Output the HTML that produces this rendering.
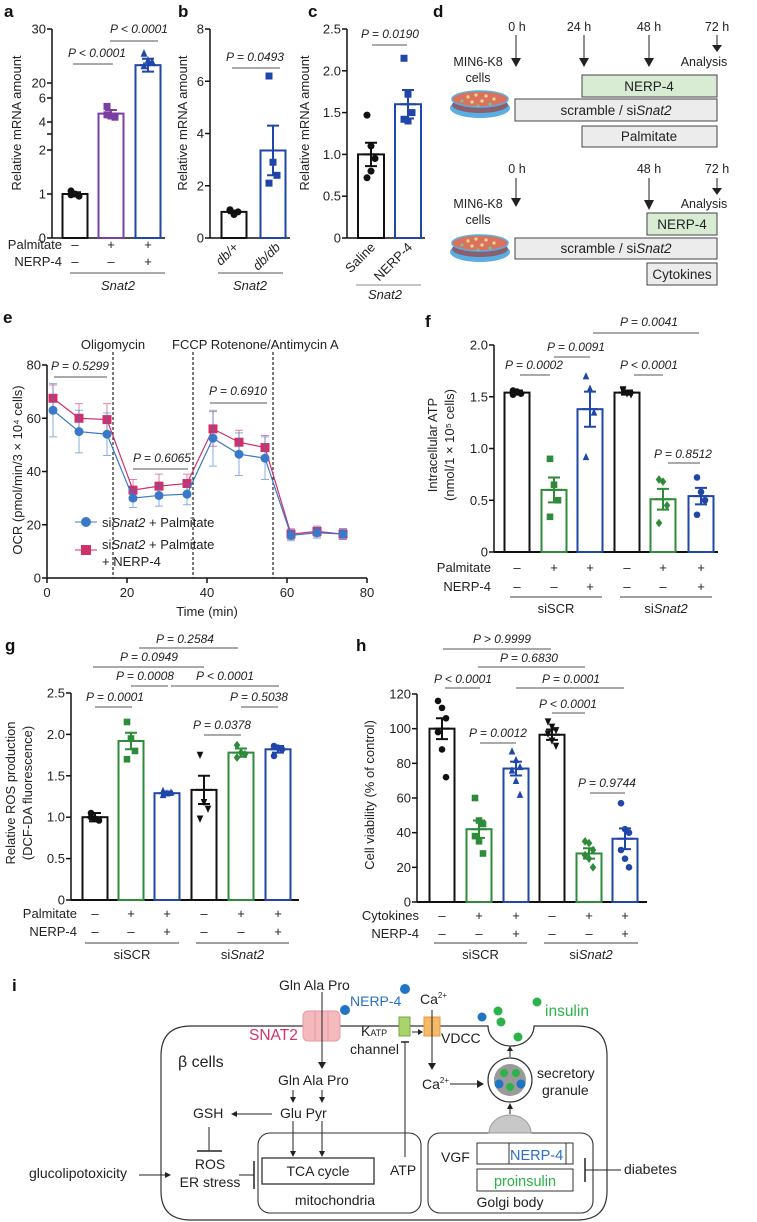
<!DOCTYPE html>
<html><head><meta charset="utf-8"><style>
html,body{margin:0;padding:0;background:#fff;}
svg{display:block;font-family:"Liberation Sans",sans-serif;}
.t{font-size:13px;fill:#222}
.pv{font-size:12px;font-style:italic;fill:#222}
.lb{font-size:17px;font-weight:bold;fill:#111}
</style></head><body>
<svg id="fig" width="757" height="1222" viewBox="0 0 757 1222" xmlns="http://www.w3.org/2000/svg">
<text class="lb" x="4" y="17">a</text>
<text class="lb" x="178" y="17">b</text>
<text class="lb" x="308" y="17">c</text>
<text class="lb" x="433" y="17">d</text>
<text class="lb" x="3" y="323">e</text>
<text class="lb" x="425" y="327">f</text>
<text class="lb" x="5" y="651">g</text>
<text class="lb" x="356" y="651">h</text>
<text class="lb" x="12" y="991">i</text>

<g id="pd" font-size="12.5" fill="#222">
  <g>
    <text x="517" y="31" text-anchor="middle">0 h</text>
    <text x="579" y="31" text-anchor="middle">24 h</text>
    <text x="649" y="31" text-anchor="middle">48 h</text>
    <text x="717" y="31" text-anchor="middle">72 h</text>
    <line x1="516" y1="35" x2="516" y2="60" stroke="#222"/><polygon points="511,58 521,58 516,67" fill="#222"/>
    <line x1="584" y1="35" x2="584" y2="60" stroke="#222"/><polygon points="579,58 589,58 584,67" fill="#222"/>
    <line x1="649" y1="35" x2="649" y2="60" stroke="#222"/><polygon points="644,58 654,58 649,67" fill="#222"/>
    <line x1="717" y1="35" x2="717" y2="46" stroke="#222"/><polygon points="712,45 722,45 717,52" fill="#222"/>
    <text x="704" y="66" text-anchor="middle">Analysis</text>
    <text x="478" y="66" text-anchor="middle">MIN6-K8</text>
    <text x="478" y="82" text-anchor="middle">cells</text>
    <g>
      <ellipse cx="480" cy="108" rx="30" ry="10" fill="#5aaee0"/>
      <ellipse cx="480" cy="105" rx="28" ry="8" fill="#8a6070"/>
      <ellipse cx="480" cy="99" rx="28" ry="8" fill="#d9735e" stroke="#5aaee0" stroke-width="1.5"/>
      <g fill="#f1dc8a"><circle cx="468" cy="97" r="1.6"/><circle cx="476" cy="95" r="1.6"/><circle cx="486" cy="96" r="1.6"/><circle cx="494" cy="99" r="1.6"/><circle cx="472" cy="102" r="1.6"/><circle cx="482" cy="101" r="1.6"/></g>
      <g fill="#6fc6b0"><circle cx="462" cy="101" r="1.5"/><circle cx="490" cy="104" r="1.5"/><circle cx="478" cy="106" r="1.5"/></g>
    </g>
    <rect x="582" y="75" width="135" height="22" fill="#d7ecd3" stroke="#444"/>
    <text x="649" y="91" text-anchor="middle" font-size="13.5">NERP-4</text>
    <rect x="515" y="99" width="202" height="22" fill="#ececec" stroke="#444"/>
    <text x="616" y="115" text-anchor="middle" font-size="13.5">scramble / si<tspan font-style="italic">Snat2</tspan></text>
    <rect x="582" y="126" width="135" height="21" fill="#ececec" stroke="#444"/>
    <text x="649" y="141" text-anchor="middle" font-size="13.5">Palmitate</text>
  </g>
  <g>
    <text x="517" y="173" text-anchor="middle">0 h</text>
    <text x="649" y="173" text-anchor="middle">48 h</text>
    <text x="717" y="173" text-anchor="middle">72 h</text>
    <line x1="516" y1="178" x2="516" y2="200" stroke="#222"/><polygon points="511,198 521,198 516,207" fill="#222"/>
    <line x1="649" y1="178" x2="649" y2="202" stroke="#222"/><polygon points="644,200 654,200 649,210" fill="#222"/>
    <line x1="717" y1="178" x2="717" y2="189" stroke="#222"/><polygon points="712,188 722,188 717,195" fill="#222"/>
    <text x="704" y="208" text-anchor="middle">Analysis</text>
    <text x="478" y="208" text-anchor="middle">MIN6-K8</text>
    <text x="478" y="224" text-anchor="middle">cells</text>
    <g>
      <ellipse cx="480" cy="252" rx="30" ry="10" fill="#5aaee0"/>
      <ellipse cx="480" cy="249" rx="28" ry="8" fill="#8a6070"/>
      <ellipse cx="480" cy="243" rx="28" ry="8" fill="#d9735e" stroke="#5aaee0" stroke-width="1.5"/>
      <g fill="#f1dc8a"><circle cx="468" cy="241" r="1.6"/><circle cx="476" cy="239" r="1.6"/><circle cx="486" cy="240" r="1.6"/><circle cx="494" cy="243" r="1.6"/><circle cx="472" cy="246" r="1.6"/><circle cx="482" cy="245" r="1.6"/></g>
      <g fill="#6fc6b0"><circle cx="462" cy="245" r="1.5"/><circle cx="490" cy="248" r="1.5"/><circle cx="478" cy="250" r="1.5"/></g>
    </g>
    <rect x="647" y="213" width="70" height="22" fill="#d7ecd3" stroke="#444"/>
    <text x="682" y="229" text-anchor="middle" font-size="13.5">NERP-4</text>
    <rect x="515" y="238" width="202" height="21" fill="#ececec" stroke="#444"/>
    <text x="616" y="253" text-anchor="middle" font-size="13.5">scramble / si<tspan font-style="italic">Snat2</tspan></text>
    <rect x="647" y="263" width="70" height="22" fill="#ececec" stroke="#444"/>
    <text x="682" y="279" text-anchor="middle" font-size="13.5">Cytokines</text>
  </g>
</g>

<g id="pi" font-size="14" fill="#222">
  <path d="M191,1026 L488,1026 A23,20 0 0 0 534,1026 L577,1026 Q607,1026 607,1056 L607,1191 Q607,1220 577,1220 L191,1220 Q161,1220 161,1191 L161,1056 Q161,1026 191,1026 Z" fill="none" stroke="#333" stroke-width="1.2"/>
  <rect x="303" y="1011" width="37" height="30" rx="5" fill="#f4b9bd" stroke="#e69aa0"/>
  <line x1="315" y1="1011" x2="315" y2="1041" stroke="#e69aa0"/><line x1="328" y1="1011" x2="328" y2="1041" stroke="#e69aa0"/>
  <text x="249" y="1040" fill="#d6336c" font-size="15.5">SNAT2</text>
  <text x="279" y="990">Gln  Ala  Pro</text>
  <line x1="322" y1="992" x2="322" y2="1063" stroke="#222"/><polygon points="318,1062 326,1062 322,1069" fill="#222"/>
  <circle cx="405" cy="989" r="5" fill="#1f74c4"/><circle cx="345" cy="1010" r="5" fill="#1f74c4"/>
  <text x="350" y="1006" fill="#2a6fc4">NERP-4</text>
  <rect x="399" y="1017" width="11" height="19" fill="#a9d36b" stroke="#7ca34a"/>
  <text x="361" y="1036">K<tspan font-size="9">ATP</tspan></text>
  <text x="350" y="1054">channel</text>
  <line x1="412" y1="1032" x2="419" y2="1032" stroke="#222"/><polygon points="418,1029 423,1032 418,1035" fill="#222"/>
  <rect x="424" y="1017" width="16" height="19" fill="#f7b968" stroke="#e39a40"/>
  <text x="441" y="1043">VDCC</text>
  <text x="420" y="1004">Ca<tspan font-size="8" dy="-6">2+</tspan></text>
  <line x1="432" y1="1010" x2="432" y2="1064" stroke="#222"/><polygon points="428,1063 436,1063 432,1070" fill="#222"/>
  <text x="422" y="1089">Ca<tspan font-size="8" dy="-6">2+</tspan></text>
  <line x1="450" y1="1084" x2="478" y2="1084" stroke="#222"/><polygon points="477,1080 484,1084 477,1088" fill="#222"/>
  <g>
    <circle cx="510" cy="1080" r="22" fill="#fff" stroke="#333" stroke-width="1.2"/>
    <circle cx="510" cy="1080" r="16" fill="#9a9a9a"/>
    <circle cx="504" cy="1073" r="4" fill="#2bb34a"/><circle cx="516" cy="1073" r="4" fill="#2bb34a"/>
    <circle cx="499" cy="1084" r="4.5" fill="#1f74c4"/><circle cx="521" cy="1084" r="4.5" fill="#1f74c4"/><circle cx="510" cy="1087" r="4" fill="#2bb34a"/>
  </g>
  <text x="537" y="1078">secretory</text><text x="542" y="1095">granule</text>
  <line x1="510" y1="1057" x2="510" y2="1050" stroke="#222"/><polygon points="507,1051 513,1051 510,1046" fill="#222"/>
  <circle cx="498" cy="1011" r="4.5" fill="#2bb34a"/><circle cx="501" cy="1022" r="4.5" fill="#2bb34a"/><circle cx="518" cy="1037" r="4.5" fill="#2bb34a"/><circle cx="537" cy="1002" r="4.5" fill="#2bb34a"/><circle cx="482" cy="1017" r="4.5" fill="#1f74c4"/>
  <text x="545" y="1016" fill="#2bb34a" font-size="15.5">insulin</text>
  <text x="178" y="1067" font-size="16">β cells</text>
  <text x="278" y="1085">Gln  Ala  Pro</text>
  <line x1="293" y1="1090" x2="293" y2="1099" stroke="#222"/><polygon points="290,1097 296,1097 293,1103" fill="#222"/>
  <line x1="322" y1="1090" x2="322" y2="1099" stroke="#222"/><polygon points="319,1097 325,1097 322,1103" fill="#222"/>
  <text x="280" y="1118">Glu  Pyr</text>
  <text x="193" y="1118">GSH</text>
  <line x1="236" y1="1114" x2="272" y2="1114" stroke="#222"/><polygon points="237,1111 231,1114 237,1117" fill="#222"/>
  <line x1="209" y1="1127" x2="209" y2="1151" stroke="#222"/><line x1="197" y1="1151" x2="222" y2="1151" stroke="#222" stroke-width="1.5"/>
  <text x="210" y="1169" text-anchor="middle">ROS</text>
  <text x="210" y="1187" text-anchor="middle">ER stress</text>
  <text x="29" y="1178">glucolipotoxicity</text>
  <line x1="139" y1="1175" x2="166" y2="1175" stroke="#222"/><polygon points="165,1172 171,1175 165,1178" fill="#222"/>
  <line x1="239" y1="1175" x2="254" y2="1175" stroke="#222"/><line x1="254" y1="1161" x2="254" y2="1189" stroke="#222" stroke-width="1.5"/>
  <rect x="258" y="1133" width="163" height="80" rx="12" fill="none" stroke="#333" stroke-width="1.1"/>
  <rect x="262" y="1158" width="112" height="26" fill="none" stroke="#333" stroke-width="1.3"/>
  <text x="318" y="1176" text-anchor="middle">TCA cycle</text>
  <text x="335" y="1205" text-anchor="middle">mitochondria</text>
  <text x="390" y="1175">ATP</text>
  <line x1="293" y1="1121" x2="293" y2="1152" stroke="#222"/><polygon points="290,1151 296,1151 293,1157" fill="#222"/>
  <line x1="322" y1="1121" x2="322" y2="1152" stroke="#222"/><polygon points="319,1151 325,1151 322,1157" fill="#222"/>
  <line x1="405" y1="1157" x2="405" y2="1042" stroke="#222"/><line x1="401" y1="1042" x2="409" y2="1042" stroke="#222" stroke-width="1.5"/>
  <rect x="428" y="1133" width="165" height="80" rx="12" fill="none" stroke="#333" stroke-width="1.1"/>
  <path d="M489,1133 A21,18 0 0 1 531,1133 Z" fill="#c8c8c8" stroke="#999"/>
  <line x1="510" y1="1114" x2="510" y2="1108" stroke="#222"/><polygon points="507,1109 513,1109 510,1103" fill="#222"/>
  <text x="441" y="1162">VGF</text>
  <rect x="477" y="1143" width="96" height="21" fill="#fff" stroke="#333"/>
  <line x1="509" y1="1143" x2="509" y2="1164" stroke="#333"/><line x1="566" y1="1143" x2="566" y2="1164" stroke="#333"/>
  <text x="510" y="1160" fill="#2a6fc4" font-size="14.5">NERP-4</text>
  <rect x="477" y="1169" width="96" height="22" fill="#fff" stroke="#333"/>
  <text x="525" y="1186" text-anchor="middle" fill="#2bb34a" font-size="14.5">proinsulin</text>
  <text x="510" y="1207" text-anchor="middle">Golgi body</text>
  <text x="624" y="1174">diabetes</text>
  <line x1="585" y1="1170" x2="621" y2="1170" stroke="#222"/><line x1="585" y1="1158" x2="585" y2="1182" stroke="#222" stroke-width="1.5"/>
</g>
</svg>
<script>
// panel a
const aMeans=[1.0,4.7,23.3];
const aSems=[0.04,0.3,1.2];
const aPts=[[1.07,1.0,0.95,0.98],[5.3,4.5,4.4,4.6],[25.5,24.2,24.0,23.2]];
// panel b
const bMeans=[1.0,3.35];
const bSems=[0.05,0.95];
const bPts=[[1.05,0.9,1.0,1.08],[6.2,2.9,2.4,2.1]];
// panel c
const cMeans=[1.0,1.6];
const cSems=[0.14,0.17];
const cPts=[[1.47,1.1,0.95,0.72,0.8],[2.15,1.72,1.5,1.42,1.4]];
// panel e
const eTimes=[1.5,8,15,21.5,28,35,41.5,48,54.5,61,67.5,74];
const eBlue=[63,55,54,30,31,31.5,52.5,46.5,45,16,17,16.5];
const eBlueErr=[10,8,8,3.5,4,4,10.5,8,8,2,2,2];
const ePink=[67.5,60,59.5,33,34.5,35.5,56,51,49,16.5,17.5,16.5];
const ePinkErr=[5,5.5,6,4,4.5,3.5,6.5,4.5,4.5,2,2,2];
const eXTicks=[0,20,40,60,80];
const eYTicks=[0,20,40,60,80];
const eInjections=[16.5,36.5,56.5];
// panel f
const fMeans=[1.54,0.6,1.38,1.54,0.51,0.54];
const fSems=[0.02,0.12,0.17,0.02,0.1,0.08];
const fPts=[[1.52,1.55,1.53,1.56],[0.9,0.65,0.5,0.34],[1.7,1.58,1.35,0.92],[1.56,1.53,1.52,1.57],[0.7,0.68,0.45,0.28],[0.72,0.58,0.5,0.36]];
const fTicks=[0,0.5,1.0,1.5,2.0];
// panel g
const gMeans=[1.0,1.92,1.29,1.33,1.78,1.82];
const gSems=[0.05,0.1,0.02,0.17,0.05,0.04];
const gPts=[[1.05,0.98,0.96,1.0],[2.15,1.95,1.8,1.7],[1.27,1.29,1.3,1.32],[1.75,1.18,1.1,0.98],[1.87,1.78,1.76,1.72],[1.86,1.84,1.82,1.74]];
const gTicks=[0,0.5,1.0,1.5,2.0,2.5];
// panel h
const hMeans=[100,42,77,96.5,28,36.5];
const hSems=[6,5,4,3,3,6];
const hPts=[[116,112,106,98,88,72],[60,47,45,38,35,28],[87,82,78,76,70,62],[104,101,99,97,93,90],[35,34,30,27,25,20],[57,42,40,30,25,20]];
const hTicks=[0,20,40,60,80,100,120];
const sixColors=['#111','#2e8b3a','#1f46a8','#111','#2e8b3a','#1f46a8'];
const sixShapes=['circle','square','tri','tridown','diamond','circle'];
const signsA=['–','+','+','–','+','+'];
const signsB=['–','–','+','–','–','+'];

const NS='http://www.w3.org/2000/svg';
const svg=document.getElementById('fig');
function mk(tag,attrs,parent){const e=document.createElementNS(NS,tag);for(const k in attrs)e.setAttribute(k,attrs[k]);(parent||svg).appendChild(e);return e;}
function tx(x,y,s,attrs,parent){const t=mk('text',Object.assign({x:x,y:y},attrs||{}),parent);t.textContent=s;return t;}
function marker(shape,x,y,s,c,parent){
  let m;
  if(shape==='circle')m=mk('circle',{cx:x,cy:y,r:s,fill:c},parent);
  else if(shape==='square')m=mk('rect',{x:x-s,y:y-s,width:2*s,height:2*s,fill:c},parent);
  else if(shape==='tri')m=mk('polygon',{points:`${x-s},${y+s} ${x+s},${y+s} ${x},${y-s*1.2}`,fill:c},parent);
  else if(shape==='tridown')m=mk('polygon',{points:`${x-s},${y-s} ${x+s},${y-s} ${x},${y+s*1.2}`,fill:c},parent);
  else m=mk('polygon',{points:`${x},${y-s*1.3} ${x+s},${y} ${x},${y+s*1.3} ${x-s},${y}`,fill:c},parent);
  
  
  return m;
}
function pval(cx,ty,x1,x2,ly,s,parent){
  const t=tx(cx,ty,s,{'class':'pv','text-anchor':'middle'},parent);
  
  
  const l=mk('line',{x1:x1,x2:x2,y1:ly,y2:ly,stroke:'#777','stroke-width':1.2},parent);
  
  
}
function yAxis(g,ax,yTop,yBot,ticks,ys,fmt){
  const a=mk('line',{x1:ax,x2:ax,y1:yTop,y2:yBot,stroke:'#111','stroke-width':1.5},g);
  
  
  ticks.forEach(v=>{
    const y=ys(v);
    mk('line',{x1:ax-5,x2:ax,y1:y,y2:y,stroke:'#111','stroke-width':1.5},g);
    const t=tx(ax-6,y+4.5,fmt(v),{'class':'t','text-anchor':'end'},g);
    
    
  });
}
function bars(g,centers,w,means,sems,pts,colors,shapes,ys,y0,msz){
  means.forEach((m,i)=>{
    const cx=centers[i],c=colors[i];
    const r=mk('rect',{x:cx-w/2,y:ys(m),width:w,height:y0-ys(m),fill:'none',stroke:c,'stroke-width':2},g);
    
    
    pts[i].forEach((p,j)=>marker(shapes[i],cx+((j%3)-1)*4,ys(p),msz,c,g));
    const e1=ys(m+sems[i]),e2=ys(m-sems[i]);
    const eb=mk('path',{d:`M${cx},${e1}V${e2}M${cx-6},${e1}H${cx+6}M${cx-6},${e2}H${cx+6}M${cx-8},${ys(m)}H${cx+8}`,stroke:c,'stroke-width':2,fill:'none'},g);
    
    
  });
}
function grp(name){const g=mk('g',{});return g;}

(function(){
  const g=grp('panel-a-chart');
  const ys=v=>v<=2?238-v*44:(v<=6?122-(v-4)*12:83-(v-20)*5.4);
  yAxis(g,52,29,238,[0,1,2,4,6,20,30],ys,v=>String(v));
  mk('line',{x1:47,x2:52,y1:134,y2:134,stroke:'#111','stroke-width':1.5},g);
  mk('line',{x1:52,x2:165,y1:238,y2:238,stroke:'#111','stroke-width':1.5},g);
  const t=tx(0,0,'Relative mRNA amount',{'class':'t','font-size':14.5,transform:'translate(21,123) rotate(-90)','text-anchor':'middle'},g);
  
  bars(g,[75,111,148],25,aMeans,aSems,aPts,['#111','#7b3fa0','#1f46a8'],['circle','square','tri'],ys,238,3.5);
  pval(97,57,73,113,64,'P < 0.0001',g);
  pval(139,33,110,158,41,'P < 0.0001',g);
  tx(62,249,'Palmitate',{'class':'t','font-size':13.5,'text-anchor':'end'},g);
  tx(62,266,'NERP-4',{'class':'t','font-size':13.5,'text-anchor':'end'},g);
  ['–','+','+'].forEach((s,i)=>tx([75,111,148][i],249,s,{'class':'t','text-anchor':'middle'},g));
  ['–','–','+'].forEach((s,i)=>tx([75,111,148][i],266,s,{'class':'t','text-anchor':'middle'},g));
  mk('line',{x1:70,x2:165,y1:273,y2:273,stroke:'#555'},g);
  tx(118,290,'Snat2',{'class':'t','font-size':14,'font-style':'italic','text-anchor':'middle'},g);
})();
(function(){
  const g=grp('panel-b-chart');
  const ys=v=>238-v*(209/8);
  yAxis(g,210,29,238,[0,2,4,6,8],ys,v=>String(v));
  mk('line',{x1:210,x2:290,y1:238,y2:238,stroke:'#111','stroke-width':1.5},g);
  const t=tx(0,0,'Relative mRNA amount',{'class':'t','font-size':14.5,transform:'translate(187,123) rotate(-90)','text-anchor':'middle'},g);
  
  bars(g,[234,273],25,bMeans,bSems,bPts,['#111','#1f46a8'],['circle','square'],ys,238,3.5);
  pval(255,61,232,280,68,'P = 0.0493',g);
  tx(0,0,'db/+',{'class':'t','font-size':13.5,'font-style':'italic',transform:'translate(239,248) rotate(-45)','text-anchor':'end'},g);
  tx(0,0,'db/db',{'class':'t','font-size':13.5,'font-style':'italic',transform:'translate(281,248) rotate(-45)','text-anchor':'end'},g);
  mk('line',{x1:218,x2:283,y1:273,y2:273,stroke:'#555'},g);
  tx(250,290,'Snat2',{'class':'t','font-size':14,'font-style':'italic','text-anchor':'middle'},g);
})();
(function(){
  const g=grp('panel-c-chart');
  const ys=v=>238-v*(209/2.5);
  yAxis(g,347,29,238,[0,0.5,1.0,1.5,2.0,2.5],ys,v=>v===0?'0':v.toFixed(1));
  mk('line',{x1:347,x2:425,y1:238,y2:238,stroke:'#111','stroke-width':1.5},g);
  const t=tx(0,0,'Relative mRNA amount',{'class':'t','font-size':14.5,transform:'translate(309,123) rotate(-90)','text-anchor':'middle'},g);
  
  bars(g,[371,408],26,cMeans,cSems,cPts,['#111','#1f46a8'],['circle','square'],ys,238,3.5);
  pval(390,38,372,407,45,'P = 0.0190',g);
  tx(0,0,'Saline',{'class':'t','font-size':13.5,transform:'translate(376,248) rotate(-45)','text-anchor':'end'},g);
  tx(0,0,'NERP-4',{'class':'t','font-size':13.5,transform:'translate(413,248) rotate(-45)','text-anchor':'end'},g);
  mk('line',{x1:356,x2:421,y1:285,y2:285,stroke:'#888'},g);
  tx(385,299,'Snat2',{'class':'t','font-size':14,'font-style':'italic','text-anchor':'middle'},g);
})();
(function(){
  const g=grp('panel-e-chart');
  const xs=t=>47+t*(320/80), ys=v=>578-v*(213/80);
  yAxis(g,47,365,578,eYTicks,ys,v=>String(v));
  const xa=mk('line',{x1:47,x2:367,y1:578,y2:578,stroke:'#111','stroke-width':1.5},g);
  
  eXTicks.forEach(v=>{mk('line',{x1:xs(v),x2:xs(v),y1:578,y2:583,stroke:'#111','stroke-width':1.5},g);
    const t=tx(xs(v),597,String(v),{'class':'t','font-size':13.5,'text-anchor':'middle'},g);});
  const xt=tx(207,616,'Time (min)',{'class':'t','text-anchor':'middle'},g);
  const yt=tx(0,0,'OCR (pmol/min/3 × 10⁴ cells)',{'class':'t','font-size':13.5,transform:'translate(22,470) rotate(-90)','text-anchor':'middle'},g);
  eInjections.forEach(v=>{const l=mk('line',{x1:xs(v),x2:xs(v),y1:352,y2:578,stroke:'#222','stroke-dasharray':'3,2','stroke-width':1.2},g);});
  tx(113,349,'Oligomycin',{'class':'t','text-anchor':'middle'},g);
  tx(172,349,'FCCP Rotenone/Antimycin A',{'class':'t'},g);
  function series(vals,err,color,shape,name){
    const sg=mk('g',{},g);
    vals.forEach((v,i)=>{const x=xs(eTimes[i]);mk('path',{d:`M${x},${ys(v-err[i])}V${ys(v+err[i])}M${x-4},${ys(v-err[i])}H${x+4}M${x-4},${ys(v+err[i])}H${x+4}`,stroke:color,'stroke-opacity':0.6,fill:'none'},sg);});
    const l=mk('polyline',{points:vals.map((v,i)=>xs(eTimes[i])+','+ys(v)).join(' '),fill:'none',stroke:color,'stroke-width':1.2},sg);
    
    vals.forEach((v,i)=>marker(shape,xs(eTimes[i]),ys(v),4.5,color,sg));
  }
  series(ePink,ePinkErr,'#d0306a','square','series-nerp4');
  series(eBlue,eBlueErr,'#3a78c9','circle','series-palmitate');
  pval(80,370,54,107,377,'P = 0.5299',g);
  pval(162,462,133,188,469,'P = 0.6065',g);
  pval(238,395,210,267,403,'P = 0.6910',g);
  const lg=grp('legend');
  mk('line',{x1:75,x2:97,y1:522,y2:522,stroke:'#3a78c9'},lg);marker('circle',86,522,5,'#3a78c9',lg);
  const l1=tx(102,527,'',{'class':'t','font-size':13.5},lg);l1.innerHTML='si<tspan font-style="italic">Snat2</tspan> + Palmitate';
  mk('line',{x1:75,x2:97,y1:550,y2:550,stroke:'#d0306a'},lg);marker('square',86,550,5,'#d0306a',lg);
  const l2=tx(102,549,'',{'class':'t','font-size':13.5},lg);l2.innerHTML='si<tspan font-style="italic">Snat2</tspan> + Palmitate';
  tx(102,566,'+ NERP-4',{'class':'t','font-size':13.5},lg);
})();
function sixPanel(o){
  const g=grp(o.name);
  const ys=v=>o.y0-v/o.vmax*(o.y0-o.yTop);
  yAxis(g,o.ax,o.yTop,o.y0,o.ticks,ys,o.fmt);
  const xa=mk('line',{x1:o.ax,x2:o.ax+o.xlen,y1:o.y0,y2:o.y0,stroke:'#111','stroke-width':2},g);
  
  bars(g,o.centers,25,o.means,o.sems,o.pts,sixColors,sixShapes,ys,o.y0,3.3);
  o.titles.forEach((s,i)=>{const t=tx(0,0,s,{'class':'t','font-size':13.5,transform:`translate(${o.tx[i]},${o.ty}) rotate(-90)`,'text-anchor':'middle'},g);});
  o.pv.forEach(p=>pval(p[0],p[1],p[2],p[3],p[4],p[5],g));
  tx(o.labelX,o.r1,o.row1,{'class':'t','font-size':13.5,'text-anchor':'end'},g);
  tx(o.labelX,o.r2,'NERP-4',{'class':'t','font-size':13.5,'text-anchor':'end'},g);
  o.centers.forEach((c,i)=>{tx(c,o.r1,signsA[i],{'class':'t','text-anchor':'middle'},g);tx(c,o.r2,signsB[i],{'class':'t','text-anchor':'middle'},g);});
  mk('line',{x1:o.g1[0],x2:o.g1[1],y1:o.gl,y2:o.gl,stroke:'#666','stroke-width':1.2},g);
  mk('line',{x1:o.g2[0],x2:o.g2[1],y1:o.gl,y2:o.gl,stroke:'#666','stroke-width':1.2},g);
  tx((o.g1[0]+o.g1[1])/2,o.gl+16,'siSCR',{'class':'t','font-size':14,'text-anchor':'middle'},g);
  const s2=tx((o.g2[0]+o.g2[1])/2,o.gl+16,'',{'class':'t','font-size':14,'text-anchor':'middle'},g);s2.innerHTML='si<tspan font-style="italic">Snat2</tspan>';
}
sixPanel({name:'panel-f-chart',ax:494,y0:552,yTop:345,vmax:2.0,xlen:224,ticks:fTicks,fmt:v=>v===0?'0':v.toFixed(1),
  centers:[517,554,590,627,663,701],means:fMeans,sems:fSems,pts:fPts,
  titles:['Intracellular ATP','(nmol/1 × 10⁵ cells)'],tx:[437,454],ty:445,
  pv:[[649,326,593,699,333,'P = 0.0041'],[576,351,554,590,357,'P = 0.0091'],[534,369,520,550,375,'P = 0.0002'],[649,369,634,663,375,'P < 0.0001'],[683,458,668,700,463,'P = 0.8512']],
  labelX:491,row1:'Palmitate',r1:572,r2:591,g1:[510,602],g2:[620,712],gl:597});
sixPanel({name:'panel-g-chart',ax:71,y0:900,yTop:693,vmax:2.5,xlen:228,ticks:gTicks,fmt:v=>v===0?'0':v.toFixed(1),
  centers:[95,131,167,204,241,278],means:gMeans,sems:gSems,pts:gPts,
  titles:['Relative ROS production','(DCF-DA fluorescence)'],tx:[15,32],ty:793,
  pv:[[185,643,139,238,648,'P = 0.2584'],[149,661,93,204,667,'P = 0.0949'],[145,680,131,168,686,'P = 0.0008'],[225,680,171,279,686,'P < 0.0001'],[115,701,95,132,707,'P = 0.0001'],[259,701,241,278,707,'P = 0.5038'],[222,729,204,241,735,'P = 0.0378']],
  labelX:77,row1:'Palmitate',r1:918,r2:936,g1:[85,179],g2:[196,289],gl:943});
sixPanel({name:'panel-h-chart',ax:417,y0:902,yTop:694,vmax:120,xlen:230,ticks:hTicks,fmt:v=>String(v),
  centers:[442,479,516,552,589,625],means:hMeans,sems:hSems,pts:hPts,
  titles:['Cell viability (% of control)'],tx:[374],ty:795,
  pv:[[502,643,443,551,649,'P > 0.9999'],[529,662,478,585,667,'P = 0.6830'],[463,683,445,480,688,'P < 0.0001'],[571,683,516,624,688,'P = 0.0001'],[568,708,552,585,713,'P < 0.0001'],[498,737,480,516,743,'P = 0.0012'],[607,787,590,625,793,'P = 0.9744']],
  labelX:419,row1:'Cytokines',r1:920,r2:938,g1:[434,527],g2:[544,638],gl:943});
</script>
</body></html>
